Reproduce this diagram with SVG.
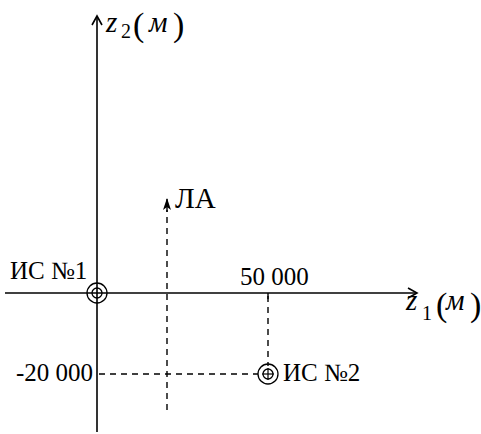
<svg xmlns="http://www.w3.org/2000/svg" width="481" height="434" viewBox="0 0 481 434">
<style>
.ax{stroke:#000;stroke-width:1.6;fill:none}
.d{stroke:#000;stroke-width:1.4;fill:none;stroke-dasharray:6 5}
.t{font-family:"Liberation Serif","Times New Roman",serif;font-size:25px;fill:#000}
.i{font-style:italic;font-size:29px}
.s{font-size:20px}
.p{font-size:34px}
.c{stroke:#000;stroke-width:1.3;fill:none}
</style>
<defs>
<marker id="open" markerWidth="12" markerHeight="12" refX="10" refY="6" orient="auto" markerUnits="userSpaceOnUse">
<path d="M1,1 L10,6 L1,11" fill="none" stroke="#000" stroke-width="1.6"/>
</marker>
<marker id="fill" markerWidth="12" markerHeight="16" refX="11" refY="4" orient="auto" markerUnits="userSpaceOnUse">
<path d="M0,0 L12,4 L0,8 L3,4 Z" fill="#000"/>
</marker>
</defs>
<g id="connectors">
<line class="ax" x1="97" y1="432" x2="97" y2="16" marker-end="url(#open)"/>
<line class="ax" x1="5" y1="293" x2="417" y2="293" marker-end="url(#open)"/>
<line class="d" x1="167" y1="410" x2="167" y2="210"/>
<line x1="167" y1="212" x2="167" y2="199" stroke="#000" stroke-width="1.4" marker-end="url(#fill)"/>
<line class="d" x1="268" y1="296" x2="268" y2="366"/>
<line x1="268" y1="293" x2="268" y2="299" stroke="#000" stroke-width="1.4"/>
<line class="d" x1="99" y1="374" x2="258" y2="374"/>
</g>
<g id="is1">
<circle class="c" cx="97" cy="293" r="10"/>
<circle class="c" cx="97" cy="293" r="5"/>
<text class="t" x="10" y="279">ИС №1</text>
</g>
<g id="is2">
<circle class="c" cx="268" cy="374" r="10"/>
<circle class="c" cx="268" cy="374" r="5"/>
<line x1="268" y1="368" x2="268" y2="380" stroke="#000" stroke-width="1.2"/>
<line x1="262" y1="374" x2="274" y2="374" stroke="#000" stroke-width="1.2"/>
<text class="t" x="283" y="381">ИС №2</text>
</g>
<g id="la">
<text class="t" x="175" y="208" style="font-size:29px">ЛА</text>
</g>
<g id="labels">
<text class="t" x="240" y="285">50 000</text>
<text class="t" x="16" y="381">-20 000</text>
<text class="t i" x="106" y="32">z</text>
<text class="t s" x="121" y="38">2</text>
<text class="t p" x="133" y="36">(</text>
<text class="t i" x="149" y="32">м</text>
<text class="t p" x="173" y="36">)</text>
<text class="t i" x="406" y="310">z</text>
<text class="t s" x="422" y="320">1</text>
<text class="t p" x="436" y="316">(</text>
<text class="t i" x="446" y="310">м</text>
<text class="t p" x="470" y="316">)</text>
</g>
</svg>
